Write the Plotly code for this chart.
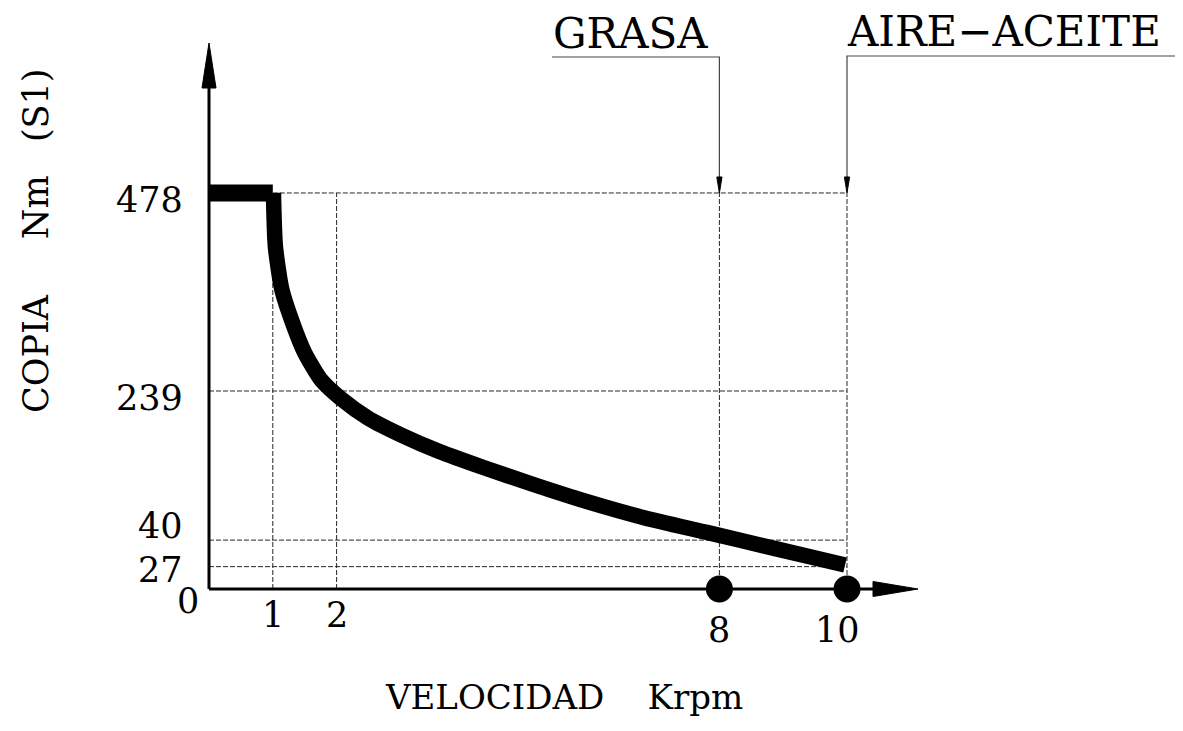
import plotly.graph_objects as go

# ---------------- data ----------------
# constant-torque segment
flat_speed_krpm = [0, 1.0]
flat_torque_nm = [478, 478]
# falling segment (vertices as drawn)
speed_krpm = [1.01, 1.04, 1.14, 1.32, 1.50, 1.76, 2.08, 2.50, 3.01, 3.61, 4.29,
              5.05, 5.90, 6.82, 7.82, 8.86, 9.97]
torque_nm = [478, 414, 362, 319, 285, 252, 229, 206, 186, 166, 147,
             127, 106, 86, 68, 49, 29]

speed_ticks = [1, 2, 8, 10]
speed_tick_text = ["1", "2", "8", "10"]

torque_guides = [478, 239, 59, 27]          # heights of the dashed guides as drawn
torque_guide_text = ["478", "239", "40", "27"]

lube_speeds = [8, 10]
lube_labels = ["GRASA", "AIRE\u2212ACEITE"]

x_title = "VELOCIDAD\u00a0\u00a0\u00a0\u00a0Krpm"
y_title = "COPIA\u00a0\u00a0\u00a0\u00a0\u00a0Nm\u00a0\u00a0\u00a0(S1)"

# ---------------- geometry ----------------
W, H = 1183, 731
X0, XS = 209, 63.8      # px of x=0, px per krpm
Y0, YS = 589, 0.8285    # px of y=0, px per Nm (drawing units)

def dx(p):
    return p / XS

def dy(p):
    return p / YS

def xpx(p):
    return (p - X0) / XS

def ypx(p):
    return (Y0 - p) / YS

FONT = "DejaVu Serif"
DASH = "5px,2px"
GUIDE_COL = "#262626"

fig = go.Figure()

# dashed guides: horizontals
x_end = max(lube_speeds)
for lvl in torque_guides:
    x_start = speed_ticks[0] if lvl == max(torque_guides) else 0
    fig.add_trace(go.Scatter(x=[x_start, x_end], y=[lvl, lvl], mode="lines",
                             line=dict(color=GUIDE_COL, width=1, dash=DASH),
                             hoverinfo="skip", showlegend=False))
# dashed guides: verticals
for s in speed_ticks:
    fig.add_trace(go.Scatter(x=[s, s], y=[0, max(torque_guides)], mode="lines",
                             line=dict(color=GUIDE_COL, width=1, dash=DASH),
                             hoverinfo="skip", showlegend=False))

# torque curve (thick band)
fig.add_trace(go.Scatter(x=flat_speed_krpm, y=flat_torque_nm, mode="lines",
                         line=dict(color="black", width=17),
                         hoverinfo="skip", showlegend=False))
fig.add_trace(go.Scatter(x=speed_krpm, y=torque_nm, mode="lines",
                         line=dict(color="black", width=15.5, shape="spline", smoothing=0.6),
                         hoverinfo="skip", showlegend=False))

# axes with arrowheads
y_arrow_base = ypx(88)
y_arrow_tip = ypx(43)
fig.add_trace(go.Scatter(x=[0, 0], y=[0, y_arrow_base], mode="lines",
                         line=dict(color="black", width=3),
                         hoverinfo="skip", showlegend=False))
fig.add_trace(go.Scatter(x=[-dx(7), dx(7), 0, -dx(7)],
                         y=[y_arrow_base, y_arrow_base, y_arrow_tip, y_arrow_base],
                         mode="lines", fill="toself", fillcolor="black",
                         line=dict(color="black", width=1),
                         hoverinfo="skip", showlegend=False))
x_arrow_base = xpx(873)
x_arrow_tip = xpx(918)
fig.add_trace(go.Scatter(x=[0, x_arrow_base], y=[0, 0], mode="lines",
                         line=dict(color="black", width=3),
                         hoverinfo="skip", showlegend=False))
fig.add_trace(go.Scatter(x=[x_arrow_base, x_arrow_base, x_arrow_tip, x_arrow_base],
                         y=[-dy(7.5), dy(7.5), 0, -dy(7.5)],
                         mode="lines", fill="toself", fillcolor="black",
                         line=dict(color="black", width=1),
                         hoverinfo="skip", showlegend=False))

# lubrication speed markers
fig.add_trace(go.Scatter(x=lube_speeds, y=[0] * len(lube_speeds), mode="markers",
                         marker=dict(color="black", size=27),
                         hoverinfo="skip", showlegend=False))

# leader lines with small arrowheads
leader_y = [ypx(57), ypx(56)]
leader_far = [xpx(552), xpx(1175)]
top = max(torque_guides)
for s, ly, far in zip(lube_speeds, leader_y, leader_far):
    fig.add_trace(go.Scatter(x=[far, s, s], y=[ly, ly, top + dy(14)], mode="lines",
                             line=dict(color="#444444", width=1.2),
                             hoverinfo="skip", showlegend=False))
    fig.add_trace(go.Scatter(x=[s - dx(2.6), s + dx(2.6), s, s - dx(2.6)],
                             y=[top + dy(16), top + dy(16), top, top + dy(16)],
                             mode="lines", fill="toself", fillcolor="black",
                             line=dict(color="black", width=1),
                             hoverinfo="skip", showlegend=False))

annotations = []
# torque tick labels
y_shifts = {"478": -7, "239": -7, "40": 14, "27": -3}
for lvl, txt in zip(torque_guides, torque_guide_text):
    annotations.append(dict(x=0, y=lvl, xref="x", yref="y", text=txt, showarrow=False,
                            xanchor="right", yanchor="middle", xshift=-24,
                            yshift=y_shifts[txt],
                            font=dict(family=FONT, size=35, color="black")))
annotations.append(dict(x=0, y=0, xref="x", yref="y", text="0", showarrow=False,
                        xanchor="center", yanchor="middle", xshift=-21, yshift=-12,
                        font=dict(family=FONT, size=35, color="black")))
# speed tick labels
for s, txt in zip(speed_ticks, speed_tick_text):
    low = s in lube_speeds
    annotations.append(dict(x=s, y=0, xref="x", yref="y", text=txt, showarrow=False,
                            xanchor="center", yanchor="middle",
                            xshift=-10 if txt == "10" else 0,
                            yshift=-41 if low else -26,
                            font=dict(family=FONT, size=35, color="black")))
# lubrication labels
label_pos = [(xpx(630), ypx(33)), (xpx(1004), ypx(31))]
for (lx, ly), txt in zip(label_pos, lube_labels):
    annotations.append(dict(x=lx, y=ly, xref="x", yref="y", text=txt, showarrow=False,
                            xanchor="center", yanchor="middle",
                            font=dict(family=FONT, size=42, color="black")))
# axis titles
annotations.append(dict(x=xpx(564), y=ypx(697), xref="x", yref="y", text=x_title,
                        showarrow=False, xanchor="center", yanchor="middle",
                        font=dict(family=FONT, size=34, color="black")))
annotations.append(dict(x=xpx(36), y=ypx(241), xref="x", yref="y", text=y_title,
                        showarrow=False, xanchor="center", yanchor="middle", textangle=-90,
                        font=dict(family=FONT, size=35, color="black")))

fig.update_layout(
    width=W, height=H,
    margin=dict(l=0, r=0, t=0, b=0),
    paper_bgcolor="white", plot_bgcolor="white",
    xaxis=dict(range=[-X0 / XS, (W - X0) / XS], visible=False, fixedrange=True),
    yaxis=dict(range=[-(H - Y0) / YS, Y0 / YS], visible=False, fixedrange=True),
    annotations=annotations,
    showlegend=False,
)

fig.write_html("out.html", config={"displayModeBar": False},
               post_script="document.body.style.margin='0';document.body.style.overflow='hidden';")
